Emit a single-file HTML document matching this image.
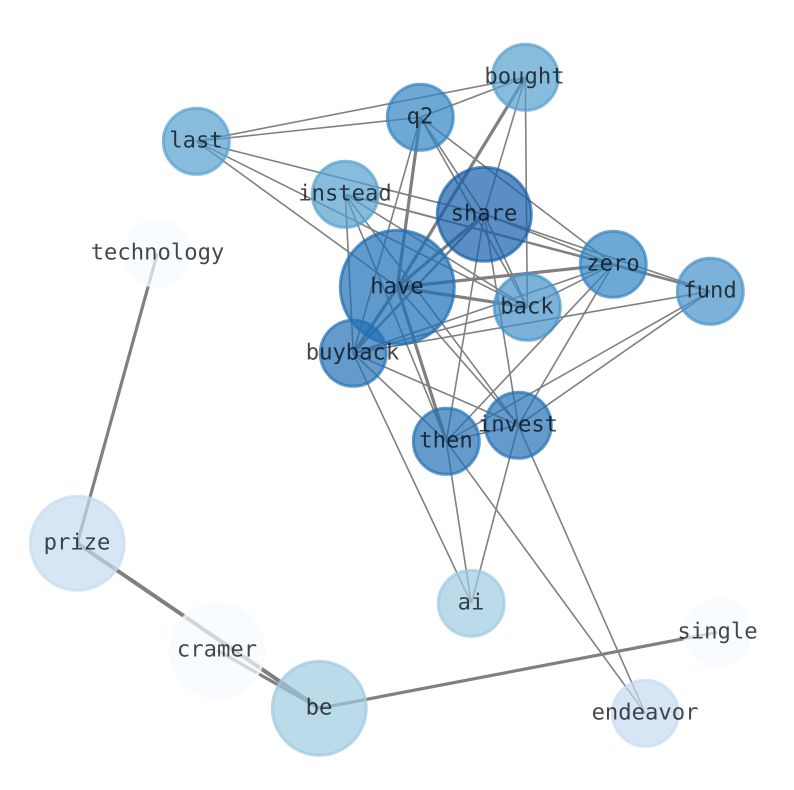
<!DOCTYPE html>
<html><head><meta charset="utf-8"><style>html,body{margin:0;padding:0;background:#fff}svg{display:block}text{font-family:"DejaVu Sans Mono","Liberation Mono",monospace;font-size:22.2px;text-anchor:middle;fill:#000;fill-opacity:.72;text-rendering:geometricPrecision}circle{fill-opacity:.7;stroke-opacity:.7;stroke-width:3}</style></head>
<body><svg width="794" height="790" viewBox="0 0 794 790" xmlns="http://www.w3.org/2000/svg">
<g transform="translate(.3 .3)">
<g stroke="#808080" stroke-width="1.6" fill="none">
<line x1="196" y1="141" x2="525" y2="77"/>
<line x1="196" y1="141" x2="420" y2="117"/>
<line x1="196" y1="141" x2="484" y2="214"/>
<line x1="196" y1="141" x2="527" y2="307"/>
<line x1="196" y1="141" x2="397" y2="287"/>
<line x1="420" y1="117" x2="525" y2="77"/>
<line x1="525" y1="77" x2="484" y2="214"/>
<line x1="525" y1="77" x2="527" y2="307"/>
<line x1="420" y1="117" x2="353" y2="353"/>
<line x1="420" y1="117" x2="484" y2="214"/>
<line x1="420" y1="117" x2="527" y2="307"/>
<line x1="420" y1="117" x2="613" y2="264"/>
<line x1="345" y1="194" x2="353" y2="353"/>
<line x1="345" y1="194" x2="446" y2="441"/>
<line x1="345" y1="194" x2="518" y2="425"/>
<line x1="345" y1="194" x2="527" y2="307"/>
<line x1="345" y1="194" x2="613" y2="264"/>
<line x1="345" y1="194" x2="710" y2="291"/>
<line x1="484" y1="214" x2="613" y2="264"/>
<line x1="484" y1="214" x2="710" y2="291"/>
<line x1="484" y1="214" x2="527" y2="307"/>
<line x1="484" y1="214" x2="446" y2="441"/>
<line x1="484" y1="214" x2="518" y2="425"/>
<line x1="397" y1="287" x2="518" y2="425"/>
<line x1="353" y1="353" x2="613" y2="264"/>
<line x1="353" y1="353" x2="710" y2="291"/>
<line x1="353" y1="353" x2="527" y2="307"/>
<line x1="353" y1="353" x2="518" y2="425"/>
<line x1="353" y1="353" x2="446" y2="441"/>
<line x1="353" y1="353" x2="471" y2="603"/>
<line x1="613" y1="264" x2="527" y2="307"/>
<line x1="613" y1="264" x2="446" y2="441"/>
<line x1="613" y1="264" x2="518" y2="425"/>
<line x1="710" y1="291" x2="446" y2="441"/>
<line x1="710" y1="291" x2="518" y2="425"/>
<line x1="446" y1="441" x2="518" y2="425"/>
<line x1="446" y1="441" x2="471" y2="603"/>
<line x1="518" y1="425" x2="471" y2="603"/>
<line x1="446" y1="441" x2="645" y2="713"/>
<line x1="518" y1="425" x2="645" y2="713"/>
<line x1="353" y1="353" x2="484" y2="214" stroke-width="2.4"/>
<line x1="613" y1="264" x2="710" y2="291" stroke-width="2.4"/>
<line x1="397" y1="287" x2="525" y2="77" stroke-width="3.2"/>
<line x1="397" y1="287" x2="420" y2="117" stroke-width="3.2"/>
<line x1="397" y1="287" x2="613" y2="264" stroke-width="3.2"/>
<line x1="397" y1="287" x2="527" y2="307" stroke-width="3.2"/>
<line x1="397" y1="287" x2="446" y2="441" stroke-width="3.2"/>
<line x1="397" y1="287" x2="353" y2="353" stroke-width="3.2"/>
<line x1="397" y1="287" x2="484" y2="214" stroke-width="3.2"/>
<line x1="157" y1="253" x2="77" y2="543" stroke-width="3.2"/>
<line x1="77" y1="543" x2="319" y2="708" stroke-width="4"/>
<line x1="217" y1="650" x2="319" y2="708" stroke-width="3.2"/>
<line x1="319" y1="708" x2="717" y2="632" stroke-width="3.2"/>
</g>
<g>
<circle cx="525" cy="77" r="33" fill="#569fce" stroke="#569fce"/>
<circle cx="420" cy="117" r="33" fill="#3183c2" stroke="#3183c2"/>
<circle cx="196" cy="141" r="33" fill="#569fce" stroke="#569fce"/>
<circle cx="345" cy="194" r="33" fill="#569fce" stroke="#569fce"/>
<circle cx="484" cy="214" r="47" fill="#1560ab" stroke="#1560ab"/>
<circle cx="397" cy="287" r="57" fill="#1d6db5" stroke="#1d6db5"/>
<circle cx="157" cy="253" r="33" fill="#f7fbff" stroke="#f7fbff"/>
<circle cx="613" cy="264" r="33" fill="#3183c2" stroke="#3183c2"/>
<circle cx="710" cy="291" r="33" fill="#4492c9" stroke="#4492c9"/>
<circle cx="527" cy="307" r="33" fill="#4492c9" stroke="#4492c9"/>
<circle cx="353" cy="353" r="33" fill="#2270b5" stroke="#2270b5"/>
<circle cx="518" cy="425" r="33" fill="#2270b5" stroke="#2270b5"/>
<circle cx="446" cy="441" r="33" fill="#2270b5" stroke="#2270b5"/>
<circle cx="77" cy="543" r="47" fill="#c6dbef" stroke="#c6dbef"/>
<circle cx="471" cy="603" r="33" fill="#9ecae1" stroke="#9ecae1"/>
<circle cx="217" cy="650" r="47" fill="#f7fbff" stroke="#f7fbff"/>
<circle cx="319" cy="708" r="47" fill="#9ecae1" stroke="#9ecae1"/>
<circle cx="717" cy="632" r="33" fill="#f7fbff" stroke="#f7fbff"/>
<circle cx="645" cy="713" r="33" fill="#c6dbef" stroke="#c6dbef"/>
</g>
</g>
<g>
<text x="524.5" y="83.7">bought</text>
<text x="420" y="123.7">q2</text>
<text x="196" y="147.7">last</text>
<text x="345" y="200.7">instead</text>
<text x="484" y="220.7">share</text>
<text x="397" y="293.7">have</text>
<text x="157.5" y="259.7">technology</text>
<text x="613" y="270.7">zero</text>
<text x="710" y="297.7">fund</text>
<text x="527" y="313.7">back</text>
<text x="352.5" y="359.7">buyback</text>
<text x="518" y="431.7">invest</text>
<text x="446" y="447.7">then</text>
<text x="77" y="549.7">prize</text>
<text x="471" y="609.7">ai</text>
<text x="217" y="656.7">cramer</text>
<text x="319" y="714.7">be</text>
<text x="717.5" y="638.7">single</text>
<text x="645" y="719.7">endeavor</text>
</g>
</svg></body></html>
